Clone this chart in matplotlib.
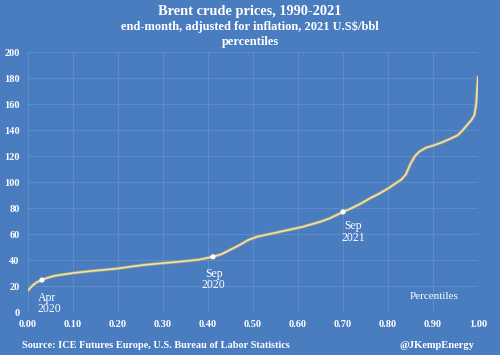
import matplotlib
matplotlib.use("Agg")
import matplotlib.pyplot as plt

# Percentile (x) vs inflation-adjusted Brent price (y)
pct = [0.000, 0.005, 0.012, 0.020, 0.031, 0.040, 0.055, 0.070, 0.085, 0.100,
       0.120, 0.140, 0.160, 0.180, 0.200, 0.230, 0.260, 0.290, 0.320, 0.350,
       0.380, 0.411, 0.430, 0.450, 0.470, 0.490, 0.510, 0.530, 0.550, 0.570,
       0.590, 0.610, 0.630, 0.650, 0.670, 0.700, 0.720, 0.740, 0.760, 0.780,
       0.800, 0.815, 0.830, 0.840, 0.850, 0.860, 0.870, 0.885, 0.900, 0.920,
       0.940, 0.955, 0.965, 0.975, 0.985, 0.992, 0.996, 1.000]
price = [16.5, 18.5, 21.0, 23.0, 24.6, 26.0, 27.5, 28.5, 29.2, 30.0,
         30.8, 31.5, 32.2, 32.8, 33.5, 35.0, 36.3, 37.3, 38.2, 39.2,
         40.3, 42.5, 44.5, 48.0, 51.5, 55.5, 58.0, 59.5, 61.0, 62.5,
         64.0, 65.5, 67.5, 69.5, 72.0, 77.0, 80.0, 83.5, 87.5, 91.0,
         95.0, 98.5, 102.0, 106.0, 114.0, 120.0, 123.5, 126.5, 128.0, 130.5,
         133.5, 136.0, 139.5, 143.5, 147.5, 151.5, 160.0, 181.0]

marked_x = [0.031, 0.411, 0.700]
marked_y = [24.6, 42.5, 77.0]
marked_labels = ["Apr\n2020", "Sep\n2020", "Sep\n2021"]

xticks = [0.0, 0.1, 0.2, 0.3, 0.4, 0.5, 0.6, 0.7, 0.8, 0.9, 1.0]
yticks = [0, 20, 40, 60, 80, 100, 120, 140, 160, 180, 200]

BG = "#4a7cc0"
GRID = "#6190cb"
TXT = "#ffffff"
LINE = "#ede3b0"
SERIF = ["Liberation Serif", "DejaVu Serif"]

fig = plt.figure(figsize=(5.0, 3.55), dpi=100, facecolor=BG)
ax = fig.add_axes([0.056, 0.121, 0.900, 0.7325], facecolor=BG)

ax.plot(pct, price, color="#9c9a82", lw=2.4, solid_capstyle="round", zorder=3)
ax.plot(pct, price, color=LINE, lw=1.2, solid_capstyle="round", zorder=4)
ax.scatter(marked_x, marked_y, s=14, color="white", zorder=5, edgecolors="none")

ax.set_xlim(0, 1.0)
ax.set_ylim(0, 200)
ax.set_xticks(xticks)
ax.set_yticks(yticks)
ax.set_xticklabels([f"{v:.2f}" for v in xticks])
ax.set_yticklabels([str(v) for v in yticks])
ax.grid(True, color=GRID, lw=0.6)
ax.set_axisbelow(True)
for s in ax.spines.values():
    s.set_visible(False)
ax.tick_params(length=0, colors=TXT)
ax.tick_params(axis="x", pad=6)
ax.tick_params(axis="y", pad=6)
for lab in ax.get_xticklabels() + ax.get_yticklabels():
    lab.set_fontfamily(SERIF)
    lab.set_fontweight("bold")
    lab.set_fontsize(7.5)

# annotations
ax.text(0.022, 15.5, marked_labels[0], ha="left", va="top", color=TXT,
        fontsize=8.5, family=SERIF, linespacing=0.95)
ax.text(0.413, 34, marked_labels[1], ha="center", va="top", color=TXT,
        fontsize=8.5, family=SERIF, linespacing=0.95)
ax.text(0.722, 70.5, marked_labels[2], ha="center", va="top", color=TXT,
        fontsize=8.5, family=SERIF, linespacing=0.95)
ax.text(0.903, 12, "Percentiles", ha="center", va="center", color=TXT,
        fontsize=8, family=SERIF)

fig.text(0.5, 1 - 12/355, "Brent crude prices, 1990-2021", ha="center", va="center",
         color=TXT, fontsize=10.4, fontweight="bold", family=SERIF)
fig.text(0.5, 1 - 27/355, "end-month, adjusted for inflation, 2021 U.S$/bbl", ha="center",
         va="center", color=TXT, fontsize=9, fontweight="bold", family=SERIF)
fig.text(0.5, 1 - 42/355, "percentiles", ha="center", va="center",
         color=TXT, fontsize=9, fontweight="bold", family=SERIF)
fig.text(22/500, 1 - 345/355, "Source: ICE Futures Europe, U.S. Bureau of Labor Statistics",
         ha="left", va="center", color=TXT, fontsize=7.4, fontweight="bold", family=SERIF)
fig.text(474/500, 1 - 346/355, "@JKempEnergy", ha="right", va="center",
         color=TXT, fontsize=7.6, fontweight="bold", family=SERIF)

fig.savefig("out.png", dpi=100, facecolor=BG)
